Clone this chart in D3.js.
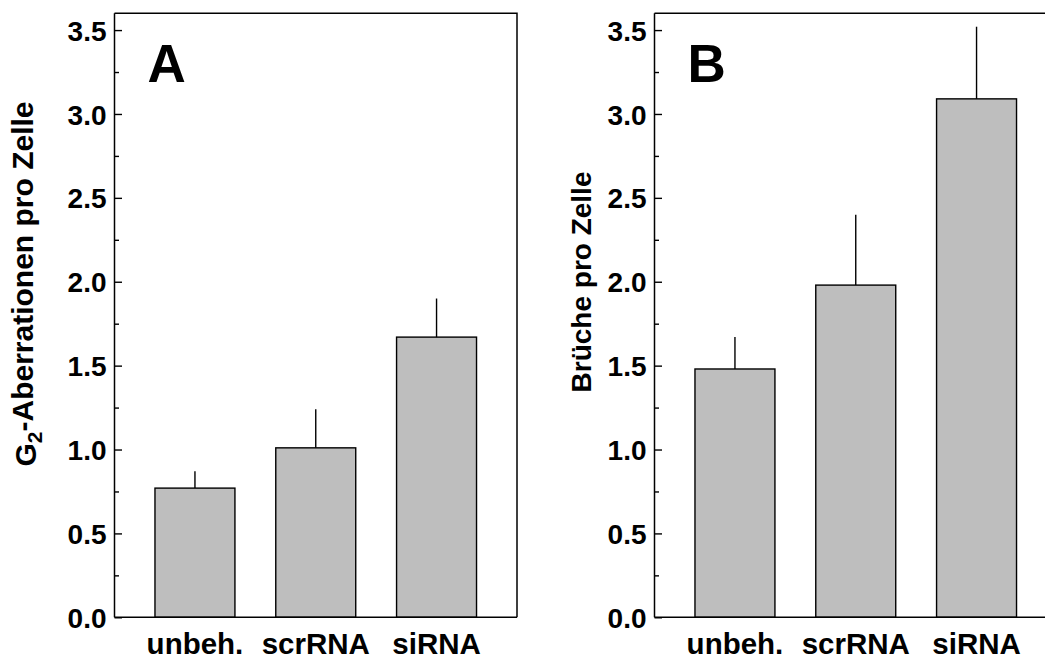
<!DOCTYPE html>
<html>
<head>
<meta charset="utf-8">
<script src="https://cdn.jsdelivr.net/npm/d3@7"></script>
<style>
  html, body { margin: 0; padding: 0; background: #fff; }
  svg { display: block; }
  text { font-family: "Liberation Sans", Arial, sans-serif; font-weight: bold; fill: #000; }
</style>
</head>
<body>
<svg id="chart" width="1045" height="659"></svg>
<script>
// Treatment groups
const categories = ["unbeh.", "scrRNA", "siRNA"];

// Panel A: G2 aberrations per cell (mean and error)
const aberrationMeans = [0.77, 1.01, 1.67];
const aberrationErrors = [0.10, 0.23, 0.23];

// Panel B: breaks per cell (mean and error)
const breakMeans = [1.48, 1.98, 3.09];
const breakErrors = [0.19, 0.42, 0.43];

// Y axis ticks
const majorTicks = [0, 0.5, 1.0, 1.5, 2.0, 2.5, 3.0, 3.5];
const minorTicks = [0.25, 0.75, 1.25, 1.75, 2.25, 2.75, 3.25];
const yMax = 3.6;

const svg = d3.select("#chart");

const plotTop = 13.3, plotBottom = 617.3;
const y = d3.scaleLinear().domain([0, yMax]).range([plotBottom, plotTop]);

function panel(opts) {
  const { left, right, means, errors, letter, title, subscript } = opts;
  const g = svg.append("g");

  const x = d3.scaleBand()
    .domain(categories)
    .range([left, right])
    .paddingInner(0.338)
    .paddingOuter(0.335);

  const data = categories.map((c, i) => ({ c, m: means[i], e: errors[i] }));

  // bars
  g.selectAll("rect.bar").data(data).join("rect")
    .attr("class", "bar")
    .attr("x", d => x(d.c))
    .attr("width", x.bandwidth())
    .attr("y", d => y(d.m))
    .attr("height", d => y(0) - y(d.m))
    .attr("fill", "#bebebe")
    .attr("stroke", "#000")
    .attr("stroke-width", 1.4);

  // upper error bars
  g.selectAll("line.err").data(data).join("line")
    .attr("class", "err")
    .attr("x1", d => x(d.c) + x.bandwidth() / 2)
    .attr("x2", d => x(d.c) + x.bandwidth() / 2)
    .attr("y1", d => y(d.m))
    .attr("y2", d => y(d.m + d.e))
    .attr("stroke", "#000")
    .attr("stroke-width", 1.4);

  // frame (top and right)
  g.append("path")
    .attr("d", `M${left},${plotTop}H${right}V${plotBottom}`)
    .attr("fill", "none")
    .attr("stroke", "#000")
    .attr("stroke-width", 1.5);

  // bottom axis line
  g.append("line")
    .attr("x1", left).attr("x2", right)
    .attr("y1", plotBottom).attr("y2", plotBottom)
    .attr("stroke", "#000").attr("stroke-width", 1.5);

  // category labels
  const xAxis = d3.axisBottom(x).tickSize(0).tickPadding(16);
  const xg = g.append("g").attr("transform", `translate(0,${plotBottom})`).call(xAxis);
  xg.select(".domain").remove();
  xg.selectAll("text").style("font-size", "29.5px").style("font-family", null);

  // major y ticks, inward
  const yAxis = d3.axisLeft(y).tickValues(majorTicks).tickSize(-7.5).tickPadding(8)
    .tickFormat(d3.format(".1f"));
  const yg = g.append("g").attr("transform", `translate(${left},0)`).call(yAxis);
  yg.select(".domain").attr("d", `M0,${plotTop}V${plotBottom}`).attr("stroke-width", 1.5);
  yg.selectAll(".tick line").attr("stroke-width", 1.4);
  yg.selectAll("text").style("font-size", "28px").style("font-family", null)
    .attr("dy", "0.36em");

  // minor y ticks
  const yMinor = d3.axisLeft(y).tickValues(minorTicks).tickSize(-4.5).tickFormat("");
  const ym = g.append("g").attr("transform", `translate(${left},0)`).call(yMinor);
  ym.select(".domain").remove();
  ym.selectAll(".tick line").attr("stroke-width", 1.4);

  // panel letter
  g.append("text")
    .attr("x", left + 33)
    .attr("y", 82)
    .style("font-size", "53px")
    .text(letter);

  // y-axis title
  const t = g.append("text")
    .attr("transform", `translate(${opts.titleX},${opts.titleY}) rotate(-90)`)
    .attr("text-anchor", "middle")
    .style("font-size", opts.titleSize);
  if (subscript) {
    t.append("tspan").text(title[0]);
    t.append("tspan").text(subscript).style("font-size", "21px").attr("dy", "0.3em");
    t.append("tspan").text(title[1]).attr("dy", "-0.3em");
  } else {
    t.text(title);
  }
}

panel({
  left: 114.5, right: 517,
  means: aberrationMeans, errors: aberrationErrors,
  letter: "A",
  title: ["G", "-Aberrationen pro Zelle"], subscript: "2",
  titleX: 36, titleY: 284, titleSize: "30px"
});

panel({
  left: 654.5, right: 1057,
  means: breakMeans, errors: breakErrors,
  letter: "B",
  title: "Brüche pro Zelle",
  titleX: 591, titleY: 282, titleSize: "28px"
});
</script>
</body>
</html>
